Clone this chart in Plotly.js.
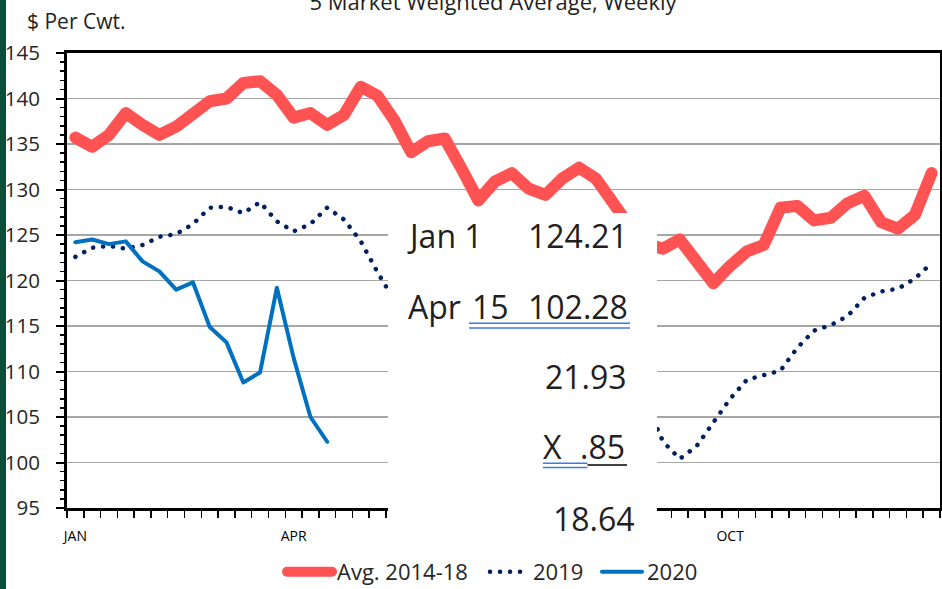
<!DOCTYPE html>
<html>
<head>
<meta charset="utf-8">
<script src="https://cdn.plot.ly/plotly-3.0.1.min.js"></script>
<style>
  html, body { margin: 0; padding: 0; background: #fff; }
  #chart { width: 942px; height: 589px; }
  path.js-line { stroke-linejoin: round !important; stroke-linecap: round !important; }
</style>
</head>
<body>
<div id="chart"></div>
<script>
// ---- data ----
const weeks = [1,2,3,4,5,6,7,8,9,10,11,12,13,14,15,16,17,18,19,20,21,22,23,24,25,26,
               27,28,29,30,31,32,33,34,35,36,37,38,39,40,41,42,43,44,45,46,47,48,49,50,51,52];
const avg2014_18 = [135.7,134.7,136.0,138.4,137.1,136.0,136.9,138.2,139.7,140.0,141.7,141.9,140.4,
                    137.9,138.4,137.1,138.2,141.3,140.3,137.6,134.1,135.3,135.6,132.3,128.8,130.9,
                    131.8,130.1,129.4,131.2,132.4,131.2,128.5,126.0,124.0,123.5,124.5,122.2,119.7,
                    121.6,123.2,123.9,128.0,128.2,126.6,126.9,128.5,129.3,126.4,125.7,127.2,131.8];
const y2019 = [122.6,123.6,123.8,123.5,123.9,124.8,125.1,126.2,128.0,128.1,127.4,128.6,126.5,
               125.4,126.2,128.0,126.7,124.3,120.9,117.8,115.5,114.5,113.0,112.0,111.5,111.0,
               111.8,112.0,111.0,110.5,110.0,109.5,108.5,107.5,106.5,102.3,100.4,101.8,104.5,
               107.0,109.1,109.6,110.1,112.6,114.5,115.1,116.1,118.1,118.8,119.1,120.2,121.9];
const y2020 = [124.21,124.5,124.0,124.3,122.1,121.0,119.0,119.8,114.9,113.2,108.8,109.9,119.2,111.5,105.0,102.28];
const seriesNames = ['Avg. 2014-18','2019','2020'];
const monthTickWeeks = [1,14,27,40];
const monthTickText = ['JAN','APR','JUL','OCT'];
const calcLabels = ['Jan 1','124.21','Apr','15','102.28','21.93','X','.85','18.64'];

// ---- layout helpers (pixel -> paper / container) ----
const W = 942, H = 589;
const L = 67, R = 940, T = 53, B = 508;
const px = v => (v - L) / (R - L);
const py = v => (B - v) / (B - T);
const cx = v => v / W;
const cy = v => 1 - v / H;
const FONT = 'Open Sans, Liberation Sans, sans-serif';
const TXT = '#1f1f1f';

const traces = [
  {x: weeks, y: avg2014_18, name: seriesNames[0], type: 'scatter', mode: 'lines', legend: 'legend',
   line: {color: '#FF5252', width: 12}},
  {x: weeks, y: y2019, name: seriesNames[1], type: 'scatter', mode: 'lines', legend: 'legend2',
   line: {color: '#002060', width: 4.5, dash: '0.1px,9.9px'}},
  {x: weeks.slice(0, y2020.length), y: y2020, name: seriesNames[2], type: 'scatter', mode: 'lines',
   legend: 'legend3', line: {color: '#0070C0', width: 4}}
];

function ann(text, x, y, xanchor, size) {
  return {text: text, xref: 'paper', yref: 'paper', x: px(x), y: py(y), xanchor: xanchor,
          yanchor: 'middle', showarrow: false, borderpad: 0, borderwidth: 0,
          font: {family: FONT, size: size || 32, color: TXT}};
}
function hline(x0, x1, y, color, w) {
  return {type: 'line', xref: 'paper', yref: 'paper', x0: px(x0), x1: px(x1), y0: py(y), y1: py(y),
          line: {color: color, width: w}, layer: 'above'};
}
function legendAt(x, w) {
  return {orientation: 'h', xref: 'container', yref: 'container', x: cx(x), y: cy(572),
          xanchor: 'left', yanchor: 'middle', itemwidth: w,
          font: {family: FONT, size: 22, color: '#262626'}, bgcolor: 'rgba(0,0,0,0)', borderwidth: 0};
}

const layout = {
  width: W, height: H,
  margin: {l: L, r: W - R, t: T, b: H - B},
  paper_bgcolor: '#ffffff', plot_bgcolor: '#ffffff',
  title: {text: '5 Market Weighted Average, Weekly', font: {family: FONT, size: 22, color: TXT},
          xref: 'container', yref: 'container', x: 493 / W, xanchor: 'center',
          y: 1 - 2.3 / H, yanchor: 'middle'},
  showlegend: true,
  legend: legendAt(282, 45),
  legend2: legendAt(485, 38),
  legend3: legendAt(597, 40),
  xaxis: {range: [0.5, 52.5], tickmode: 'array', tickvals: monthTickWeeks, ticktext: monthTickText,
          ticks: 'outside', ticklen: 0, tickcolor: '#000', showgrid: false, zeroline: false,
          showline: true, linecolor: '#000', linewidth: 3, mirror: true,
          tickfont: {family: FONT, size: 14, color: '#000'}, ticklabelstandoff: 13,
          minor: {tickmode: 'linear', tick0: 0.5, dtick: 1, ticks: 'outside', ticklen: 7,
                  tickwidth: 1.5, tickcolor: '#000', showgrid: false}},
  yaxis: {range: [95, 145], tickmode: 'linear', tick0: 95, dtick: 5, ticks: 'outside', ticklen: 8,
          tickwidth: 2, tickcolor: '#000', showgrid: true, gridcolor: '#a6a6a6', gridwidth: 1.5,
          zeroline: false, showline: true, linecolor: '#000', linewidth: 3, mirror: true,
          tickfont: {family: FONT, size: 20.5, color: '#262626'}, ticklabelstandoff: 12,
          minor: {dtick: 1, ticks: 'outside', ticklen: 4, tickwidth: 1.5, tickcolor: '#000', showgrid: false}},
  annotations: [
    ann('$ Per Cwt.', 27, 20.5, 'left', 21),
    ann(calcLabels[0], 406.7, 235, 'left'),
    ann(calcLabels[1], 628.3, 235, 'right'),
    ann(calcLabels[2], 408, 306.7, 'left'),
    ann(calcLabels[3], 471.7, 306.7, 'left'),
    ann(calcLabels[4], 628.3, 306.7, 'right'),
    ann(calcLabels[5], 627, 376.7, 'right'),
    ann(calcLabels[6], 543, 446.7, 'left'),
    ann(calcLabels[7], 625, 446.7, 'right'),
    ann(calcLabels[8], 635, 518, 'right')
  ],
  shapes: [
    {type: 'rect', xref: 'paper', yref: 'paper', x0: px(388), x1: px(657), y0: py(548), y1: py(213),
     fillcolor: '#ffffff', line: {width: 0}, layer: 'above'},
    hline(469, 630, 323.3, '#3d7be0', 1.5),
    hline(469, 630, 328.0, '#3d7be0', 1.5),
    hline(543, 587.5, 463.3, '#3d7be0', 1.5),
    hline(543, 587.5, 467.5, '#3d7be0', 1.5),
    hline(587.5, 627, 465.0, '#000000', 1.5),
    {type: 'rect', xref: 'paper', yref: 'paper', x0: px(0), x1: px(6), y0: py(H), y1: py(0),
     fillcolor: '#0b4f3a', line: {width: 0}, layer: 'above'}
  ]
};

Plotly.newPlot('chart', traces, layout, {displayModeBar: false, staticPlot: true});
</script>
</body>
</html>
